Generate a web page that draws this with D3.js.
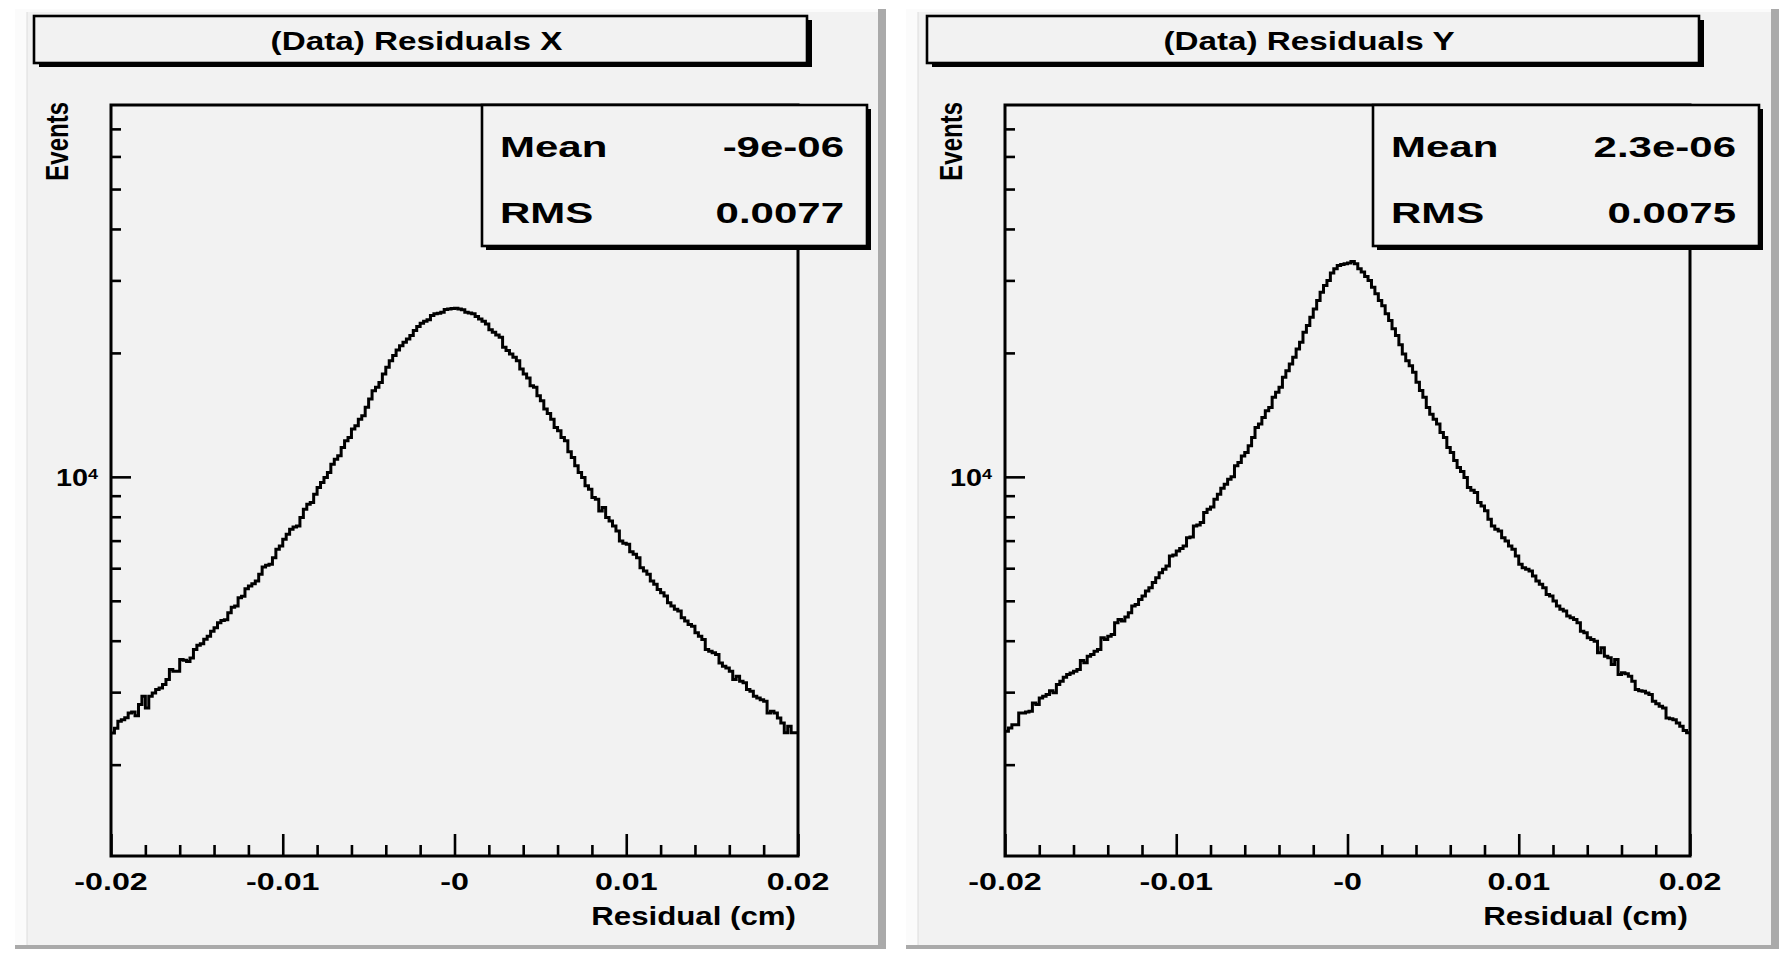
<!DOCTYPE html>
<html><head><meta charset="utf-8">
<script src="https://cdn.jsdelivr.net/npm/d3@7"></script>
<style>
html,body{margin:0;padding:0;background:#ffffff;}
svg{display:block;}
text{font-family:"Liberation Sans",Arial,Helvetica,sans-serif;font-weight:bold;fill:#000;}
</style>
</head><body>
<svg id="c" width="1785" height="954"></svg>
<script>
// ---------------- data ----------------
const titles = ["(Data) Residuals X", "(Data) Residuals Y"];
const xAxisTitle = "Residual (cm)";
const yAxisTitle = "Events";
const xDomain = [-0.02, 0.02];
const nBins = 200;
const xTicks = [-0.02, -0.01, 0, 0.01, 0.02];
const xTickLabels = ["-0.02", "-0.01", "-0", "0.01", "0.02"];
const xMinorTicks = [-0.018,-0.016,-0.014,-0.012,-0.008,-0.006,-0.004,-0.002,0.002,0.004,0.006,0.008,0.012,0.014,0.016,0.018];
const yDomain = [1200, 80000];
const yMajorTicks = [10000];
const yMajorLabels = [["10", "4"]];
const yMinorTicks = [2000,3000,4000,5000,6000,7000,8000,9000,20000,30000,40000,50000,60000,70000];
const statNames = ["Mean", "RMS"];
const statsX = ["-9e-06", "0.0077"];
const statsY = ["2.3e-06", "0.0075"];

const residualsX = [
 2387,2450,2548,2572,2600,2670,2685,2630,2800,2930,
 2746,2930,2986,3043,3070,3130,3219,3404,3373,3373,
 3600,3585,3560,3630,3808,3900,3930,4030,4100,4220,
 4300,4420,4480,4500,4680,4820,4860,5085,5130,5350,
 5430,5500,5585,5797,6040,6100,6131,6364,6668,6794,
 7052,7253,7458,7557,7600,7964,8343,8582,8660,9074,
 9418,9687,9961,10247,10735,11040,11250,11785,12234,12466,
 13060,13310,13810,14075,14750,15450,16190,16500,16960,17780,
 18450,19150,19700,20330,20830,21220,21630,22030,22660,23170,
 23600,23880,24060,24650,24880,24970,25110,25490,25580,25630,
 25680,25580,25450,25110,25000,24880,24510,24190,23880,23520,
 22750,22440,22110,21830,20640,20260,19880,19510,19150,18280,
 17780,17390,16650,16500,15740,15310,14610,14260,13810,13180,
 12940,12466,12234,11500,11140,10635,10247,9961,9508,9333,
 8905,8826,8265,8422,7964,7816,7600,7390,6987,6897,
 6858,6580,6483,6364,6016,5906,5797,5585,5482,5329,
 5230,5134,4945,4855,4766,4721,4548,4464,4380,4339,
 4180,4102,4027,3808,3773,3738,3703,3533,3467,3435,
 3373,3219,3280,3189,3160,3043,3014,2932,2904,2877,
 2851,2670,2695,2670,2597,2525,2390,2480,2390,2390
];
const residualsY = [
 2410,2455,2501,2501,2670,2670,2685,2696,2825,2800,
 2905,2932,2960,3025,2990,3130,3189,3260,3311,3340,
 3373,3404,3580,3535,3668,3703,3773,3808,4064,4027,
 4102,4142,4420,4505,4464,4565,4677,4855,4900,5038,
 5134,5280,5380,5535,5690,5851,5962,6070,6424,6460,
 6606,6700,6794,7116,7145,7600,7640,7743,8188,8340,
 8450,8820,9074,9380,9598,9870,10000,10640,10830,11240,
 11460,11900,12460,13180,13440,13945,14470,14740,15600,16060,
 16500,17450,18110,18800,19520,20450,21230,22440,23300,24420,
 25580,26800,28080,29150,29970,31250,32000,32620,32800,32920,
 33050,33350,32920,32000,31420,30650,29970,28880,27830,26800,
 26050,24880,23960,22880,22030,20940,19880,19150,18620,17950,
 16980,16210,15600,14740,14200,13810,13440,12815,12460,11790,
 11460,10950,10540,10300,9963,9418,9280,9160,8660,8500,
 8270,7890,7600,7460,7390,7116,6990,6794,6668,6424,
 6131,6016,5962,5906,5745,5585,5482,5379,5180,5134,
 4993,4855,4766,4720,4590,4548,4505,4420,4219,4180,
 4064,4027,3990,3738,3843,3668,3635,3500,3600,3311,
 3342,3325,3280,3189,3043,3025,3015,2987,2960,2851,
 2810,2773,2747,2597,2585,2572,2525,2478,2420,2390
];

// ---------------- layout ----------------
const W = 1785, H = 954;
const panels = [
  {title: titles[0], values: residualsX, stats: statsX,
   pad: [15, 9, 886, 949], frame: [111, 105, 798, 856], tbox: [34, 16, 807, 63], sbox: [482, 105, 867, 246]},
  {title: titles[1], values: residualsY, stats: statsY,
   pad: [906, 9, 1779, 949], frame: [1005, 105, 1690, 856], tbox: [927, 16, 1699, 63], sbox: [1373, 105, 1759, 246]}
];

const svg = d3.select("#c");
svg.append("rect").attr("width", W).attr("height", H).attr("fill", "#ffffff");

function stext(g, str, x, y, size, sx, anchor) {
  return g.append("text")
    .attr("transform", `translate(${x},${y}) scale(${sx},1)`)
    .attr("text-anchor", anchor)
    .attr("font-size", size)
    .text(str);
}

function box(g, b, sdx, sdy) {
  g.append("rect").attr("x", b[0] + sdx).attr("y", b[1] + sdy)
    .attr("width", b[2] - b[0]).attr("height", b[3] - b[1]).attr("fill", "#000");
  g.append("rect").attr("x", b[0]).attr("y", b[1])
    .attr("width", b[2] - b[0]).attr("height", b[3] - b[1])
    .attr("fill", "#f2f2f2").attr("stroke", "#000").attr("stroke-width", 2.6);
}

panels.forEach(p => {
  const g = svg.append("g");
  const [px0, py0, px1, py1] = p.pad;
  // pad with bevel
  g.append("rect").attr("x", px0).attr("y", py0).attr("width", px1 - px0).attr("height", py1 - py0).attr("fill", "#aaaaaa");
  g.append("rect").attr("x", px0).attr("y", py0).attr("width", px1 - px0 - 8).attr("height", py1 - py0 - 4).attr("fill", "#fbfbfb");
  g.append("rect").attr("x", px0 + 12).attr("y", py0 + 3).attr("width", px1 - px0 - 20).attr("height", py1 - py0 - 7).attr("fill", "#f2f2f2");
  g.append("line").attr("x1", px0 + 12).attr("x2", px0 + 12).attr("y1", py0 + 3).attr("y2", py1 - 4).attr("stroke", "#dcdcdc").attr("stroke-width", 1);

  const [fx0, fy0, fx1, fy1] = p.frame;
  const x = d3.scaleLinear().domain(xDomain).range([fx0, fx1]);
  const y = d3.scaleLog().domain(yDomain).range([fy1, fy0]);

  // histogram
  const bw = (xDomain[1] - xDomain[0]) / nBins;
  const pts = p.values.map((v, k) => [xDomain[0] + k * bw, v]);
  pts.push([xDomain[1], p.values[p.values.length - 1]]);
  const line = d3.line().x(d => x(d[0])).y(d => y(d[1])).curve(d3.curveStepAfter);
  g.append("path").attr("d", line(pts)).attr("fill", "none").attr("stroke", "#000")
    .attr("stroke-width", 3).attr("stroke-linejoin", "miter");

  // axes ticks
  const axStyle = sel => { sel.select(".domain").remove(); sel.selectAll("line").attr("stroke", "#000").attr("stroke-width", 2.6); sel.selectAll("text").remove(); };
  g.append("g").attr("transform", `translate(0,${fy1})`)
    .call(d3.axisBottom(x).tickValues(xTicks).tickSizeInner(-22).tickSizeOuter(0).tickFormat("")).call(axStyle);
  g.append("g").attr("transform", `translate(0,${fy1})`)
    .call(d3.axisBottom(x).tickValues(xMinorTicks).tickSizeInner(-11).tickSizeOuter(0).tickFormat("")).call(axStyle);
  g.append("g").attr("transform", `translate(${fx0},0)`)
    .call(d3.axisLeft(y).tickValues(yMajorTicks).tickSizeInner(-20).tickSizeOuter(0).tickFormat(() => "")).call(axStyle);
  g.append("g").attr("transform", `translate(${fx0},0)`)
    .call(d3.axisLeft(y).tickValues(yMinorTicks).tickSizeInner(-10).tickSizeOuter(0).tickFormat(() => "")).call(axStyle);

  // frame
  g.append("rect").attr("x", fx0).attr("y", fy0).attr("width", fx1 - fx0).attr("height", fy1 - fy0)
    .attr("fill", "none").attr("stroke", "#000").attr("stroke-width", 3);

  // x tick labels
  xTicks.forEach((t, k) => stext(g, xTickLabels[k], x(t), fy1 + 34, 23.5, 1.37, "middle"));
  // x axis title
  stext(g, xAxisTitle, fx1 - 2, fy1 + 69, 25, 1.25, "end");
  // y tick labels
  yMajorTicks.forEach((t, k) => {
    const yy = y(t);
    stext(g, yMajorLabels[k][0], fx0 - 23, yy + 9.5, 24, 1.2, "end");
    stext(g, yMajorLabels[k][1], fx0 - 23, yy + 2.5, 15, 1.2, "start");
  });
  // y axis title
  g.append("text")
    .attr("transform", `translate(${fx0 - 43},${fy0 - 3}) scale(1.33,1) rotate(-90)`)
    .attr("text-anchor", "end").attr("font-size", 24).text(yAxisTitle);

  // title box
  box(g, p.tbox, 5, 4);
  stext(g, p.title, (p.tbox[0] + p.tbox[2]) / 2 - 4, p.tbox[1] + 33.5, 25, 1.33, "middle");

  // stats box
  box(g, p.sbox, 4, 4);
  statNames.forEach((n, k) => {
    const yy = p.sbox[1] + 52 + k * 66;
    stext(g, n, p.sbox[0] + 18, yy, 30, 1.4, "start");
    stext(g, p.stats[k], p.sbox[2] - 23, yy, 30, 1.4, "end");
  });
});
</script>
</body></html>
